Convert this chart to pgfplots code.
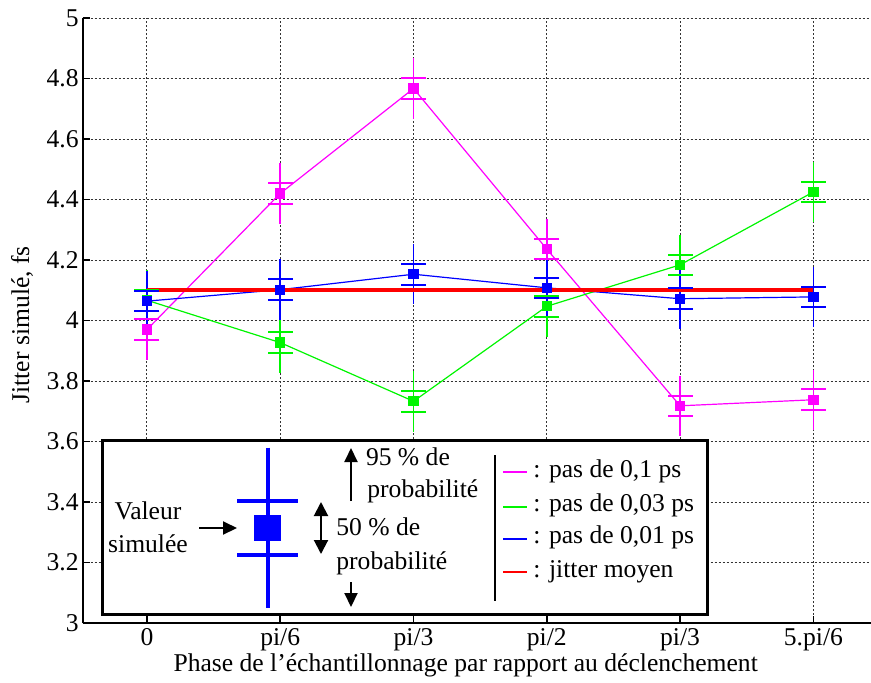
\documentclass[border=0pt]{standalone}
\usepackage{pgfplots}
\usepackage{pgfplotstable}
\pgfplotsset{compat=1.18}
\usepackage{fontspec}
\setmainfont{Liberation Serif}
\usetikzlibrary{arrows.meta}
\definecolor{cmag}{RGB}{255,0,255}
\definecolor{cgreen}{RGB}{0,245,0}
\definecolor{cblue}{RGB}{0,0,255}
\definecolor{cred}{RGB}{255,0,0}

% y: simulated value; lo/hi: 50 % bounds; e95: half-width of 95 % interval
\pgfplotstableread{
x y lo hi e95
0 3.970 3.936 4.004 0.10
1 4.420 4.386 4.454 0.10
2 4.767 4.733 4.801 0.10
3 4.236 4.202 4.270 0.10
4 3.718 3.684 3.752 0.10
5 3.738 3.704 3.772 0.10
}\magdata
\pgfplotstableread{
x y lo hi e95
0 4.067 4.033 4.101 0.10
1 3.927 3.893 3.961 0.10
2 3.733 3.699 3.767 0.10
3 4.047 4.013 4.081 0.10
4 4.184 4.150 4.218 0.10
5 4.425 4.391 4.459 0.10
}\greendata
\pgfplotstableread{
x y lo hi e95
0 4.064 4.030 4.098 0.10
1 4.102 4.068 4.136 0.10
2 4.153 4.119 4.187 0.10
3 4.108 4.074 4.142 0.10
4 4.072 4.038 4.106 0.10
5 4.078 4.044 4.112 0.10
}\bluedata

\pgfplotsset{
  e95/.style={only marks, mark=none, forget plot,
    error bars/.cd, y dir=both, y explicit, error mark=none,
    error bar style={line width=0.9pt}},
  cap/.style={only marks, forget plot, mark=-, mark size=6.25pt,
    mark options={solid, line width=1pt}},
  ser/.style={line width=0.6pt, mark=square*, mark size=2.25pt, mark options={solid}},
}

\begin{document}
\fontsize{12.8}{15}\selectfont
\begin{tikzpicture}
\begin{axis}[
  at={(0,0)}, anchor=south west,
  scale only axis, width=394pt, height=302.5pt,
  xmin=-0.482, xmax=5.43, ymin=3, ymax=5,
  axis x line*=bottom, axis y line*=left,
  axis line style={black, line width=1pt, -},
  xtick={0,1,2,3,4,5},
  xticklabels={0,pi/6,pi/3,pi/2,pi/3,5.pi/6},
  ytick={3,3.2,3.4,3.6,3.8,4,4.2,4.4,4.6,4.8,5},
  grid=major,
  major grid style={dash pattern=on 1pt off 1pt, black!80, line width=0.45pt},
  tick align=inside, major tick length=3.5pt,
  tick style={black, line width=0.8pt},
  /pgf/number format/assume math mode=true,
  tick label style={font=\fontsize{12.8}{15}\selectfont},
  yticklabel style={anchor=east, inner sep=0pt, xshift=-1.85pt},
  xticklabel style={anchor=base, inner sep=0pt, yshift=-11pt},
  ylabel={Jitter simulé, fs},
  ylabel style={at={(axis description cs:-0.077,0.493)}, anchor=center, font=\fontsize{12.8}{15}\selectfont},
  xlabel={Phase de l’échantillonnage par rapport au déclenchement},
  xlabel style={at={(axis description cs:0.486,0)}, anchor=base, yshift=-24pt, inner sep=0pt, font=\fontsize{12.8}{15}\selectfont},
]
% magenta
\addplot[cmag, e95] table[x=x, y=y, y error=e95] {\magdata};
\addplot[cmag, cap] table[x=x, y=lo] {\magdata};
\addplot[cmag, cap] table[x=x, y=hi] {\magdata};
\addplot[cmag, ser] table[x=x, y=y] {\magdata};
% green
\addplot[cgreen, e95] table[x=x, y=y, y error=e95] {\greendata};
\addplot[cgreen, cap] table[x=x, y=lo] {\greendata};
\addplot[cgreen, cap] table[x=x, y=hi] {\greendata};
\addplot[cgreen, ser] table[x=x, y=y] {\greendata};
% blue
\addplot[cblue, e95] table[x=x, y=y, y error=e95] {\bluedata};
\addplot[cblue, cap] table[x=x, y=lo] {\bluedata};
\addplot[cblue, cap] table[x=x, y=hi] {\bluedata};
\addplot[cblue, ser] table[x=x, y=y] {\bluedata};
% mean
\addplot[cred, line width=2pt, mark=none] coordinates {(0,4.1) (5,4.1)};
\end{axis}

\begin{scope}[x=0.5pt, y=-0.5pt, shift={(-82.7,-623)}]
  \draw[fill=white, line width=1.5pt] (102,440) rectangle (707,614);
  \node[align=center, inner sep=0pt, font=\fontsize{12.8}{16.5}\selectfont] at (148,527) {Valeur\\simulée};
  \draw[line width=1pt, -{Triangle[length=7pt,width=6.5pt]}] (199,528) -- (237,528);
  % icon
  \draw[cblue, line width=2pt] (268,447.6) -- (268,608);
  \draw[cblue, line width=2pt] (237,501) -- (298,501);
  \draw[cblue, line width=2pt] (237,555) -- (298,555);
  \fill[cblue] (254,515) rectangle (281,541);
  % arrows
  \draw[line width=1pt, -{Triangle[length=7pt,width=6.5pt]}] (351,501) -- (351,448);
  \draw[line width=1pt, -{Triangle[length=7pt,width=6.5pt]}] (351,582) -- (351,607);
  \draw[line width=1pt, {Triangle[length=7pt,width=7pt]}-{Triangle[length=7pt,width=7pt]}] (321,502) -- (321,554);
  \node[anchor=base west, inner sep=0pt] at (365.6,465.6) {95 \% de};
  \node[anchor=base west, inner sep=0pt] at (367,497.8) {probabilité};
  \node[anchor=base west, inner sep=0pt] at (336,535) {50 \% de};
  \node[anchor=base west, inner sep=0pt] at (336,569) {probabilité};
  % separator
  \draw[line width=1pt] (494.5,455) -- (494.5,601);
  % legend
  \draw[cmag, line width=1.3pt] (503,472) -- (527,472);
  \draw[cgreen, line width=1.3pt] (503,507) -- (527,507);
  \draw[cblue, line width=1.3pt] (503,539) -- (527,539);
  \draw[cred, line width=1.3pt] (503,572) -- (527,572);
  \node[anchor=base west, inner sep=0pt] at (533,477.5) {: pas de 0,1 ps};
  \node[anchor=base west, inner sep=0pt] at (533,511) {: pas de 0,03 ps};
  \node[anchor=base west, inner sep=0pt] at (533,543.6) {: pas de 0,01 ps};
  \node[anchor=base west, inner sep=0pt] at (533,577.5) {: jitter moyen};
  \pgfresetboundingbox
  \path[use as bounding box] (0,0) rectangle (871,682);
\end{scope}
\end{tikzpicture}
\end{document}
